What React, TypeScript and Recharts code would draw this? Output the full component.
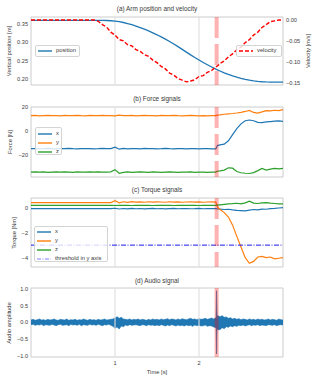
import React from 'react';
import { ComposedChart, Line, Area, XAxis, YAxis, ReferenceLine, ReferenceArea } from 'recharts';

const FONT = '"Liberation Sans", Arial, sans-serif';
const TXT = '#3a3a3a';
const GRID = '#dedede';
const FRAME = '#cccccc';
const BLUE = '#1f77b4';
const ORANGE = '#ff7f0e';
const GREEN = '#2ca02c';
const EVENT_T = 2.21;

const time = [0,0.05,0.1,0.15,0.2,0.25,0.3,0.35,0.4,0.45,0.5,0.55,0.6,0.65,0.7,0.75,0.8,0.85,0.9,0.95,1,1.05,1.1,1.15,1.2,1.25,1.3,1.35,1.4,1.45,1.5,1.55,1.6,1.65,1.7,1.75,1.8,1.85,1.9,1.95,2,2.05,2.1,2.15,2.2,2.22,2.25,2.3,2.35,2.4,2.45,2.5,2.55,2.6,2.65,2.7,2.75,2.8,2.85,2.9,2.95,3];

const position = [0.36,0.36,0.36,0.36,0.36,0.36,0.36,0.36,0.36,0.36,0.36,0.36,0.36,0.36,0.36,0.36,
  0.3600,0.3598,0.3594,0.3588,0.3578,0.3562,0.3540,0.3512,0.3480,0.3443,0.3402,0.3358,0.3310,0.3259,0.3205,
  0.3147,0.3086,0.3021,0.2952,0.2881,0.2807,0.2732,0.2657,0.2585,0.2516,0.2450,0.2387,0.2327,0.2270,0.2249,
  0.2218,0.2169,0.2125,0.2085,0.2049,0.2017,0.1989,0.1966,0.1948,0.1934,0.1924,0.1919,0.1917,0.1916,0.1916,0.1916];

const velocity = [0,0,0,0,0,0,0,0,0,0,0,0,0,0,0,0,
  -0.003,-0.011,-0.017,-0.029,-0.036,-0.047,-0.050,-0.059,-0.062,-0.071,-0.075,-0.083,-0.087,-0.096,-0.102,
  -0.111,-0.117,-0.127,-0.132,-0.140,-0.144,-0.148,-0.146,-0.143,-0.135,-0.133,-0.125,-0.121,-0.112,-0.110,
  -0.104,-0.098,-0.088,-0.081,-0.071,-0.065,-0.054,-0.047,-0.036,-0.029,-0.018,-0.011,-0.004,-0.002,0,0];

const forceX = [-14.6,-14.5,-14.7,-14.6,-14.4,-14.6,-14.7,-14.5,-14.6,-14.4,-14.6,-14.7,-14.5,-14.6,-14.5,-14.7,
  -14.6,-14.4,-14.6,-14.5,-13.3,-15.0,-14.4,-14.8,-14.6,-14.5,-14.7,-14.4,-14.6,-14.5,-14.7,-14.6,-14.4,-14.6,
  -14.7,-14.5,-14.6,-14.8,-14.5,-14.6,-14.7,-14.5,-14.6,-14.7,
  -14.8,-12.0,-11.5,-10.8,-8.0,-3.0,2.0,6.0,8.6,9.2,8.6,7.2,7.0,7.6,7.9,8.2,8.5,8.0];

const forceY = [12.8,13.0,12.7,12.9,13.1,12.8,12.9,12.7,13.0,12.8,12.9,13.1,12.8,12.7,13.0,12.9,12.8,13.1,12.9,
  12.8,12.6,13.2,12.9,12.8,13.0,12.7,12.9,13.0,12.8,12.9,12.7,13.0,12.8,12.9,13.1,12.8,12.7,12.9,13.0,12.8,
  12.6,12.9,12.7,12.8,
  12.9,13.3,13.5,14.0,14.3,14.6,15.0,15.6,16.3,17.2,15.5,14.9,15.9,17.0,16.8,17.3,17.0,17.8];

const forceZ = [-34.0,-33.8,-34.1,-33.9,-34.2,-34.0,-33.9,-34.1,-33.8,-34.0,-34.2,-33.9,-34.0,-34.1,-33.8,-34.0,
  -33.9,-34.1,-34.0,-33.8,-32.0,-35.0,-34.3,-33.8,-34.2,-34.0,-33.9,-34.1,-34.3,-33.9,-34.0,-34.2,-34.0,-33.9,
  -34.1,-34.3,-34.0,-34.1,-33.9,-34.2,-34.0,-34.1,-34.3,-34.0,
  -34.0,-33.2,-33.0,-32.4,-30.5,-30.8,-33.5,-34.6,-35.0,-35.2,-34.5,-32.8,-31.0,-32.3,-31.5,-31.0,-31.3,-31.0];

const torqueX = [-0.08,-0.08,-0.08,-0.08,-0.08,-0.08,-0.08,-0.08,-0.08,-0.08,-0.08,-0.08,-0.08,-0.08,-0.08,-0.08,
  -0.08,-0.08,-0.08,-0.08,
  -0.05,-0.11,-0.07,-0.1,-0.06,-0.09,-0.07,-0.1,-0.08,-0.06,-0.09,-0.07,-0.1,-0.08,-0.06,-0.09,-0.08,-0.07,
  -0.09,-0.08,-0.06,-0.09,-0.08,-0.07,
  -0.08,-0.1,-0.12,-0.15,-0.13,-0.18,-0.22,-0.24,-0.26,-0.2,-0.15,-0.18,-0.12,-0.13,-0.08,-0.06,-0.03,0.0];

const torqueY = [0.40,0.40,0.41,0.40,0.40,0.41,0.40,0.40,0.40,0.41,0.40,0.40,0.41,0.40,0.40,0.41,0.40,0.40,0.41,
  0.40,0.55,0.38,0.47,0.42,0.48,0.44,0.46,0.43,0.47,0.44,0.46,0.45,0.43,0.47,0.44,0.46,0.43,0.45,0.47,0.44,
  0.46,0.43,0.45,0.46,
  0.44,0.05,-0.15,-0.4,-0.75,-1.4,-2.3,-3.15,-4.0,-4.45,-4.3,-3.95,-3.9,-4.0,-3.95,-4.1,-4.05,-4.0];

const torqueZ = [0.18,0.18,0.19,0.18,0.18,0.19,0.18,0.18,0.18,0.19,0.18,0.18,0.19,0.18,0.18,0.18,0.19,0.18,0.18,
  0.18,0.17,0.19,0.18,0.18,0.17,0.18,0.19,0.18,0.18,0.17,0.18,0.19,0.18,0.18,0.17,0.18,0.18,0.19,0.18,0.18,
  0.17,0.18,0.18,0.18,
  0.18,0.2,0.22,0.26,0.3,0.32,0.35,0.3,0.38,0.52,0.36,0.33,0.38,0.4,0.36,0.33,0.3,0.3];

const torqueThreshold = -3;

// audio envelope (upper / lower extent of the waveform) sampled every 25 ms
const audioStep = 0.025;
const audioHigh = [0.07,0.09,0.06,0.08,0.1,0.07,0.08,0.06,0.09,0.07,
  0.08,0.1,0.07,0.06,0.09,0.08,0.07,0.1,0.06,0.08,
  0.07,0.09,0.06,0.08,0.07,0.1,0.08,0.06,0.09,0.07,
  0.08,0.06,0.09,0.07,0.08,0.1,0.07,0.08,0.09,0.1,
  0.13,0.17,0.12,0.15,0.1,0.09,0.08,0.1,0.07,0.09,
  0.08,0.1,0.07,0.09,0.08,0.06,0.09,0.07,0.1,0.08,
  0.09,0.07,0.1,0.08,0.09,0.11,0.08,0.1,0.09,0.07,
  0.1,0.08,0.11,0.09,0.08,0.1,0.12,0.09,0.1,0.08,
  0.11,0.09,0.1,0.12,0.09,0.11,0.13,0.1,0.14,0.2,
  0.17,0.2,0.15,0.16,0.12,0.14,0.1,0.12,0.09,0.11,
  0.08,0.1,0.09,0.07,0.1,0.08,0.09,0.07,0.1,0.08,
  0.09,0.07,0.08,0.1,0.07,0.09,0.08,0.06,0.1,0.08,0.07];
const audioLow = [-0.07,-0.06,-0.09,-0.07,-0.08,-0.06,-0.1,-0.07,-0.08,-0.09,
  -0.06,-0.08,-0.1,-0.07,-0.06,-0.09,-0.08,-0.07,-0.1,-0.06,
  -0.08,-0.07,-0.09,-0.06,-0.1,-0.07,-0.08,-0.09,-0.06,-0.08,
  -0.07,-0.09,-0.06,-0.08,-0.1,-0.07,-0.08,-0.06,-0.09,-0.12,
  -0.18,-0.14,-0.2,-0.11,-0.13,-0.08,-0.1,-0.07,-0.09,-0.08,
  -0.07,-0.09,-0.1,-0.07,-0.08,-0.1,-0.07,-0.09,-0.08,-0.1,
  -0.08,-0.1,-0.07,-0.09,-0.11,-0.08,-0.1,-0.07,-0.09,-0.11,
  -0.08,-0.1,-0.09,-0.11,-0.08,-0.1,-0.09,-0.12,-0.08,-0.1,
  -0.09,-0.11,-0.1,-0.08,-0.12,-0.1,-0.11,-0.14,-0.16,-0.22,
  -0.22,-0.16,-0.19,-0.13,-0.15,-0.11,-0.13,-0.1,-0.12,-0.09,
  -0.1,-0.08,-0.11,-0.09,-0.07,-0.1,-0.08,-0.09,-0.07,-0.1,
  -0.08,-0.09,-0.1,-0.07,-0.08,-0.09,-0.07,-0.1,-0.08,-0.07,-0.08];
// the short impact spike in the audio
const spikeTime = [2.204, 2.207, 2.209, 2.211, 2.213, 2.216];
const spikeHigh = [0.15, 0.6, 0.95, 0.7, 0.4, 0.18];
const spikeLow = [-0.16, -0.55, -0.95, -0.75, -0.35, -0.2];

const titles = ['(a) Arm position and velocity', '(b) Force signals', '(c) Torque signals', '(d) Audio signal'];
const xTicks = [1, 2];

const sigData = time.map((t, i) => ({
  t, pos: position[i], vel: velocity[i],
  fx: forceX[i], fy: forceY[i], fz: forceZ[i],
  tx: torqueX[i], ty: torqueY[i], tz: torqueZ[i],
}));
const audioData = [
  ...audioHigh.map((h, i) => ({ t: +(i * audioStep).toFixed(3), band: [audioLow[i], h] })),
  ...spikeTime.map((t, i) => ({ t, band: [spikeLow[i], spikeHigh[i]] })),
].sort((a, b) => a.t - b.t);

const fmt = (d: number) => (v: number) => {
  const s = Math.abs(v).toFixed(d);
  return v < -1e-9 ? '\u2212' + s : s;
};
const tickStyle = { fill: TXT, fontSize: 5.6, fontFamily: FONT };

const LEFT_W = 31;
const RIGHT_W = 36;
const CW = 319;

type Item = { label: string; color: string; dash?: string; width?: number };

function LegendBox({ left, top, width, height, items, padTop = 0 }: { left: number; top: number; width: number; height: number; items: Item[]; padTop?: number }) {
  return (
    <div style={{
      position: 'absolute', left, top, width, height, boxSizing: 'border-box',
      background: 'rgba(255,255,255,0.8)', border: '1px solid #d4d4d4', borderRadius: 2,
      paddingTop: padTop, paddingLeft: 2, fontFamily: FONT, fontSize: 5.8, color: TXT,
    }}>
      {items.map((it) => (
        <div key={it.label} style={{ display: 'flex', alignItems: 'center', height: items.length === 1 ? height - 2 : 9 }}>
          <svg width={14} height={4} style={{ display: 'block' }}>
            <line x1={0} x2={14} y1={2} y2={2} stroke={it.color} strokeWidth={it.width ?? 1.4} strokeDasharray={it.dash} />
          </svg>
          <span style={{ marginLeft: 4, lineHeight: 1, whiteSpace: 'nowrap' }}>{it.label}</span>
        </div>
      ))}
    </div>
  );
}

function Title({ y, text, size = 6.4 }: { y: number; text: string; size?: number }) {
  return (
    <div style={{ position: 'absolute', left: 157, top: y, transform: 'translate(-50%,-50%)', fontFamily: FONT, fontSize: size, color: TXT, whiteSpace: 'nowrap', lineHeight: 1 }}>{text}</div>
  );
}

function VLabel({ x, y, text }: { x: number; y: number; text: string }) {
  return (
    <div style={{ position: 'absolute', left: x, top: y, transform: 'translate(-50%,-50%) rotate(-90deg)', fontFamily: FONT, fontSize: 5.8, color: TXT, whiteSpace: 'nowrap', lineHeight: 1 }}>{text}</div>
  );
}

function Frame({ yAxisId, y1, y2 }: { yAxisId?: string; y1: number; y2: number }) {
  return <ReferenceArea yAxisId={yAxisId} x1={0} x2={3} y1={y1} y2={y2} fill="none" stroke={FRAME} strokeWidth={1} ifOverflow="visible" />;
}

export default function App() {
  const A = [0.1836, 0.369];
  const AR = [-0.1555, 0.0072];
  const B = [-38.1, 20];
  const C = [-4.75, 0.77];
  const D = [-1.04, 1.03];
  const commonY = { tickSize: 0, tickMargin: 3, axisLine: false, tickLine: false, tick: tickStyle, width: LEFT_W };

  return (
    <div style={{ position: 'fixed', left: 0, top: 0, width: 319, height: 383, background: '#fff', overflow: 'hidden' }}>
      {/* (a) */}
      <div style={{ position: 'absolute', left: 0, top: 0 }}>
        <ComposedChart width={CW} height={100} data={sigData} margin={{ top: 17, right: 0, bottom: 15, left: 0 }}>
          <XAxis dataKey="t" type="number" domain={[0, 3]} hide />
          <YAxis yAxisId="l" type="number" domain={A} ticks={[0.2, 0.25, 0.3, 0.35]} tickFormatter={fmt(2)} {...commonY} />
          <YAxis yAxisId="r" orientation="right" type="number" domain={AR} ticks={[-0.15, -0.1, -0.05, 0]} tickFormatter={fmt(2)} {...commonY} width={RIGHT_W} />
          <Frame yAxisId="l" y1={A[0]} y2={A[1]} />
          {xTicks.map((x) => <ReferenceLine key={x} yAxisId="l" x={x} stroke={GRID} strokeWidth={1.1} />)}
          <Line yAxisId="l" dataKey="pos" stroke={BLUE} strokeWidth={1.3} dot={false} isAnimationActive={false} />
          <Line yAxisId="r" dataKey="vel" stroke="#ff0000" strokeWidth={1.4} strokeDasharray="4 2" dot={false} isAnimationActive={false} />
          <ReferenceLine yAxisId="l" segment={[{ x: EVENT_T, y: A[1] }, { x: EVENT_T, y: A[0] }]} stroke="#ff0000" strokeOpacity={0.3} strokeWidth={4} strokeDasharray="21 6" />
        </ComposedChart>
      </div>

      {/* (b) */}
      <div style={{ position: 'absolute', left: 0, top: 95 }}>
        <ComposedChart width={CW} height={95} data={sigData} margin={{ top: 12, right: RIGHT_W, bottom: 13, left: 0 }}>
          <XAxis dataKey="t" type="number" domain={[0, 3]} hide />
          <YAxis type="number" domain={B} ticks={[-20, 0, 20]} tickFormatter={fmt(0)} {...commonY} />
          <Frame y1={B[0]} y2={B[1]} />
          {xTicks.map((x) => <ReferenceLine key={x} x={x} stroke={GRID} strokeWidth={1.1} />)}
          <Line dataKey="fx" stroke={BLUE} strokeWidth={1.2} dot={false} isAnimationActive={false} />
          <Line dataKey="fy" stroke={ORANGE} strokeWidth={1.2} dot={false} isAnimationActive={false} />
          <Line dataKey="fz" stroke={GREEN} strokeWidth={1.2} dot={false} isAnimationActive={false} />
          <ReferenceLine segment={[{ x: EVENT_T, y: B[1] }, { x: EVENT_T, y: B[0] }]} stroke="#ff0000" strokeOpacity={0.3} strokeWidth={4} strokeDasharray="21 6" />
        </ComposedChart>
      </div>

      {/* (c) */}
      <div style={{ position: 'absolute', left: 0, top: 185 }}>
        <ComposedChart width={CW} height={90} data={sigData} margin={{ top: 13, right: RIGHT_W, bottom: 8, left: 0 }}>
          <XAxis dataKey="t" type="number" domain={[0, 3]} hide />
          <YAxis type="number" domain={C} ticks={[-4, -2, 0]} tickFormatter={fmt(0)} {...commonY} />
          <Frame y1={C[0]} y2={C[1]} />
          {xTicks.map((x) => <ReferenceLine key={x} x={x} stroke={GRID} strokeWidth={1.1} />)}
          <Line dataKey="tx" stroke={BLUE} strokeWidth={1.2} dot={false} isAnimationActive={false} />
          <Line dataKey="ty" stroke={ORANGE} strokeWidth={1.2} dot={false} isAnimationActive={false} />
          <Line dataKey="tz" stroke={GREEN} strokeWidth={1.2} dot={false} isAnimationActive={false} />
          <ReferenceLine y={torqueThreshold} stroke="#1a1aee" strokeWidth={1} strokeDasharray="5 1.5 1 1.5" />
          <ReferenceLine segment={[{ x: EVENT_T, y: C[1] }, { x: EVENT_T, y: C[0] }]} stroke="#ff0000" strokeOpacity={0.3} strokeWidth={4} strokeDasharray="21 6" />
        </ComposedChart>
      </div>

      {/* (d) */}
      <div style={{ position: 'absolute', left: 0, top: 275 }}>
        <ComposedChart width={CW} height={108} data={audioData} margin={{ top: 13, right: RIGHT_W, bottom: 0, left: 0 }}>
          <XAxis dataKey="t" type="number" domain={[0, 3]} ticks={xTicks} height={26} tickSize={0} tickMargin={4} axisLine={false} tickLine={false} tick={tickStyle} />
          <YAxis type="number" domain={D} ticks={[-1, -0.5, 0, 0.5, 1]} tickFormatter={fmt(1)} {...commonY} />
          <Frame y1={D[0]} y2={D[1]} />
          {xTicks.map((x) => <ReferenceLine key={x} x={x} stroke={GRID} strokeWidth={1.1} />)}
          <Area dataKey="band" type="linear" stroke={BLUE} strokeWidth={0.6} fill={BLUE} fillOpacity={1} dot={false} isAnimationActive={false} />
          <ReferenceLine x={EVENT_T} stroke="#ff0000" strokeOpacity={0.3} strokeWidth={4} />
        </ComposedChart>
      </div>

      <Title y={9} text={titles[0]} />
      <Title y={99.3} text={titles[1]} />
      <Title y={190.3} text={titles[2]} />
      <Title y={281.3} text={titles[3]} />
      <Title y={373.3} text="Time [s]" size={5.8} />

      <VLabel x={9.5} y={51} text="Vertical position [m]" />
      <VLabel x={309} y={51} text="Velocity [m/s]" />
      <VLabel x={10.5} y={142} text="Force [N]" />
      <VLabel x={15} y={232.5} text="Torque [Nm]" />
      <VLabel x={10} y={322.5} text="Audio amplitude" />

      <LegendBox left={35} top={45} width={45} height={12} items={[{ label: 'position', color: BLUE }]} />
      <LegendBox left={236} top={45} width={46} height={12} items={[{ label: 'velocity', color: '#ff0000', dash: '4 2' }]} />
      <LegendBox left={35} top={127} width={27} height={28} padTop={1} items={[
        { label: 'x', color: BLUE }, { label: 'y', color: ORANGE }, { label: 'z', color: GREEN },
      ]} />
      <LegendBox left={34} top={226} width={74} height={36} padTop={0.5} items={[
        { label: 'x', color: BLUE }, { label: 'y', color: ORANGE }, { label: 'z', color: GREEN },
        { label: 'threshold in y axis', color: '#7f7fff', dash: '4 1.5 1 1.5', width: 1.2 },
      ]} />
    </div>
  );
}
